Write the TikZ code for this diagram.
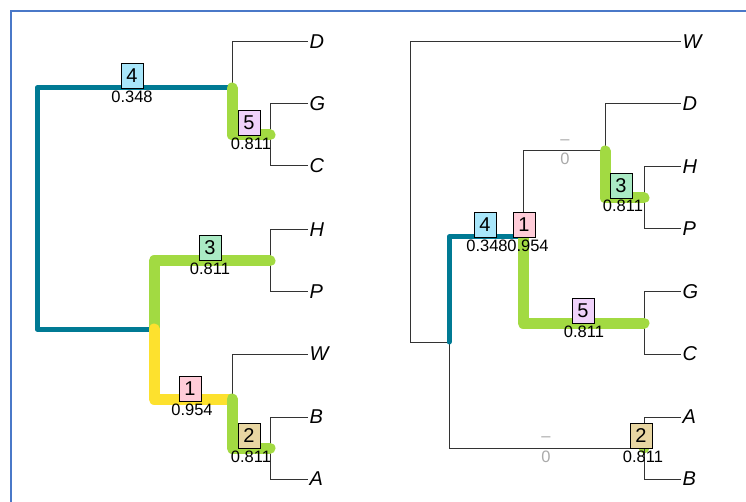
\documentclass[tikz,border=0pt]{standalone}
\usepackage{fontspec}
\setmainfont{Liberation Sans}
\definecolor{framecol}{HTML}{4A78C8}
\definecolor{tealc}{HTML}{007A94}
\definecolor{greenc}{HTML}{A2DA42}
\definecolor{yellowc}{HTML}{FDE12E}
\definecolor{boxA}{HTML}{A8E6FA}
\definecolor{boxB}{HTML}{FFCCD8}
\definecolor{boxC}{HTML}{E8D6A2}
\definecolor{boxD}{HTML}{AAEAC4}
\definecolor{boxE}{HTML}{EFD2FA}
\definecolor{grayc}{HTML}{AAAAAA}
\newcommand{\tipfont}{\fontsize{20}{21}\selectfont\itshape}
\newcommand{\numfont}{\fontsize{20}{21}\selectfont}
\newcommand{\valfont}{\fontsize{16.5}{17}\selectfont}
\tikzset{
  branch/.style={draw=black!80, line width=1pt},
  tiplab/.style={anchor=west, inner sep=1.5pt, font=\tipfont},
  hlteal/.style={draw=tealc, line width=5pt, line join=round, line cap=round},
  hlgreen/.style={draw=greenc, line width=11pt, line join=round, line cap=round},
  hlyellow/.style={draw=yellowc, line width=11pt, line join=round, line cap=round},
  numbox/.style={draw=black, line width=0.8pt, minimum width=22pt, minimum height=25pt, inner sep=0pt, font=\numfont},
  vallab/.style={font=\valfont, inner sep=0pt},
  zerolab/.style={font=\valfont, inner sep=0pt, text=grayc}
}
\begin{document}
\begin{tikzpicture}[x=1pt,y=-1pt]
\useasboundingbox (0,0) rectangle (746,502);
\draw[framecol, line width=2pt] (11,502) -- (11,11) -- (746,11);

% ---------------- left tree ----------------
\coordinate (Lroot) at (37,208);
\coordinate (L4) at (232,88);
\coordinate (L5) at (270,135);
\coordinate (Lx) at (154,329);
\coordinate (L3) at (270,261);
\coordinate (L1) at (232,399);
\coordinate (L2) at (270,448);

\node[tiplab] (tD) at (308,42) {D};
\node[tiplab] (tG) at (308,104) {G};
\node[tiplab] (tC) at (308,166) {C};
\node[tiplab] (tH) at (308,230) {H};
\node[tiplab] (tP) at (308,292) {P};
\node[tiplab] (tW) at (308,354) {W};
\node[tiplab] (tB) at (308,417) {B};
\node[tiplab] (tA) at (308,479) {A};

\draw[branch] (L4) |- (tD.west);
\draw[branch] (L5) |- (tG.west);
\draw[branch] (L5) |- (tC.west);
\draw[branch] (L3) |- (tH.west);
\draw[branch] (L3) |- (tP.west);
\draw[branch] (L1) |- (tW.west);
\draw[branch] (L2) |- (tB.west);
\draw[branch] (L2) |- (tA.west);

\draw[hlteal] (L4) -| (Lroot) |- (Lx);
\draw[hlgreen] (Lx) |- (L3);
\draw[hlyellow] (Lx) |- (L1);
\draw[hlgreen] (L1) |- (L2);
\draw[hlgreen] (L4) |- (L5);

\node[numbox, fill=boxA] (b4) at (132,75.5) {4};
\node[vallab] (v4) at (132,96.5) {0.348};
\node[numbox, fill=boxE] (b5) at (249,122.5) {5};
\node[vallab] (v5) at (251,143.5) {0.811};
\node[numbox, fill=boxD] (b3) at (210,247.5) {3};
\node[vallab] (v3) at (210,268.5) {0.811};
\node[numbox, fill=boxB] (b1) at (190,388.5) {1};
\node[vallab] (v1) at (192,409.5) {0.954};
\node[numbox, fill=boxC] (b2) at (249,435.5) {2};
\node[vallab] (v2) at (251,456.5) {0.811};

% ---------------- right tree ----------------
\coordinate (Rroot) at (410,192);
\coordinate (Ra) at (449,342);
\coordinate (Rb) at (523,237);
\coordinate (Rc) at (605,151);
\coordinate (R3) at (644,198);
\coordinate (R5) at (644,323);
\coordinate (R2) at (644,448);

\node[tiplab] (rW) at (681,42) {W};
\node[tiplab] (rD) at (681,104) {D};
\node[tiplab] (rH) at (681,167) {H};
\node[tiplab] (rP) at (681,229) {P};
\node[tiplab] (rG) at (681,292) {G};
\node[tiplab] (rC) at (681,354) {C};
\node[tiplab] (rA) at (681,417) {A};
\node[tiplab] (rB) at (681,479) {B};

\draw[branch] (Rroot) |- (rW.west);
\draw[branch] (Rroot) |- (Ra);
\draw[branch] (Ra) |- (Rb);
\draw[branch] (Ra) |- (R2);
\draw[branch] (Rb) |- (Rc);
\draw[branch] (Rb) |- (R5);
\draw[branch] (Rc) |- (rD.west);
\draw[branch] (Rc) |- (R3);
\draw[branch] (R3) |- (rH.west);
\draw[branch] (R3) |- (rP.west);
\draw[branch] (R5) |- (rG.west);
\draw[branch] (R5) |- (rC.west);
\draw[branch] (R2) |- (rA.west);
\draw[branch] (R2) |- (rB.west);

\draw[hlteal] (Ra) |- (Rb);
\draw[hlgreen] (Rb) |- (R5);
\draw[hlgreen] (Rc) |- (R3);
\fill[greenc] (R2) circle (5.5);
\draw[branch] (R2) |- (rB.west);

\node[zerolab] (z1a) at (565,142) {\textendash};
\node[zerolab] (z1b) at (565,159) {0};
\node[zerolab] (z2a) at (546,439) {\textendash};
\node[zerolab] (z2b) at (546,457) {0};

\node[numbox, fill=boxA] (rb4) at (485,224.5) {4};
\node[vallab] (rv4) at (487,245.5) {0.348};
\node[numbox, fill=boxB] (rb1) at (524,224.5) {1};
\node[vallab] (rv1) at (528,245.5) {0.954};
\node[numbox, fill=boxD] (rb3) at (621,185.5) {3};
\node[vallab] (rv3) at (623,205.5) {0.811};
\node[numbox, fill=boxE] (rb5) at (583,310.5) {5};
\node[vallab] (rv5) at (584,331.5) {0.811};
\node[numbox, fill=boxC] (rb2) at (641,435.5) {2};
\node[vallab] (rv2) at (643,456.5) {0.811};
\end{tikzpicture}
\end{document}
